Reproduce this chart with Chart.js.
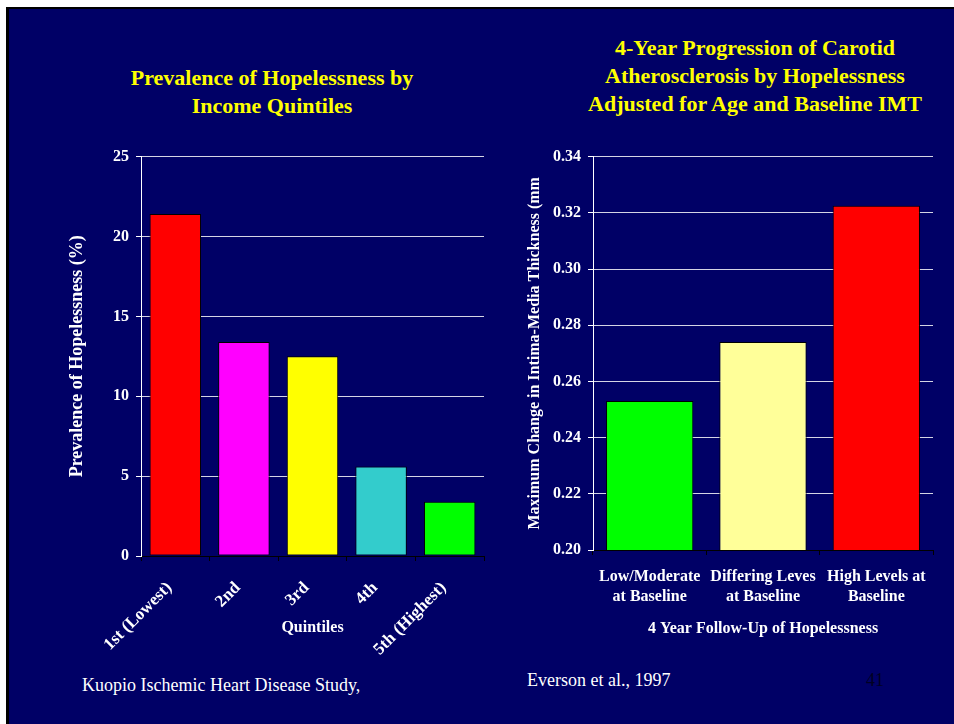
<!DOCTYPE html>
<html>
<head>
<meta charset="utf-8">
<script src="https://cdn.jsdelivr.net/npm/chart.js@4.4.1/dist/chart.umd.min.js"></script>
<style>
  html, body { margin: 0; padding: 0; background: #fff; }
  body { width: 954px; height: 724px; position: relative; overflow: hidden;
         font-family: "Liberation Serif", "Times New Roman", serif; }
  #slide { position: absolute; left: 6px; top: 7px; right: 0; bottom: 0;
           background: #000066; border-left: 3px solid #000; border-top: 2px solid #000; }
  .abs { position: absolute; }
  .title { color: #ffff00; font-weight: bold; font-size: 22px; line-height: 28px;
           text-align: center; width: 420px; white-space: nowrap; }
  .foot { color: #fff; font-size: 18px; white-space: nowrap; line-height: 20px; }
  canvas { position: absolute; }
</style>
</head>
<body>
<div id="slide"></div>

<div class="abs title" style="left:62px; top:64px;">Prevalence of Hopelessness by<br>Income Quintiles</div>
<div class="abs title" style="left:545px; top:34px;">4-Year Progression of Carotid<br>Atherosclerosis by Hopelessness<br>Adjusted for Age and Baseline IMT</div>

<canvas id="chart-left" width="445" height="520" style="left:55px; top:140px;"></canvas>
<canvas id="chart-right" width="449" height="510" style="left:505px; top:140px;"></canvas>

<div class="abs foot" style="left:82px; top:675px;">Kuopio Ischemic Heart Disease Study,</div>
<div class="abs foot" style="left:527px; top:670px;">Everson et al., 1997</div>
<div class="abs foot" style="left:866px; top:670px; color:#000022;">41</div>

<script>
/* ===== DATA ===== */
const QUINTILE_LABELS = ['1st (Lowest)', '2nd', '3rd', '4th', '5th (Highest)'];
const PREVALENCE      = [21.4, 13.4, 12.5, 5.6, 3.4];
const QUINTILE_COLORS = ['#ff0000', '#ff00ff', '#ffff00', '#33cccc', '#00ff00'];
const PREV_TICKS      = { min: 0, max: 25, step: 5 };

const FOLLOWUP_LABELS = [
  ['Low/Moderate', 'at Baseline'],
  ['Differing Leves', 'at Baseline'],
  ['High Levels at', 'Baseline'],
];
const IMT_CHANGE      = [0.253, 0.274, 0.3225];
const FOLLOWUP_COLORS = ['#00ff00', '#ffff99', '#ff0000'];
const IMT_TICKS       = { min: 0.20, max: 0.34, step: 0.02 };

/* ===== SHARED STYLE ===== */
const SERIF = '"Liberation Serif", "Times New Roman", serif';
const boldFont = (size, lineHeight = 1.2) => ({ family: SERIF, size, weight: 'bold', lineHeight });
const GRID_COLOR = '#d4d4e4';

function makeBarChart(canvasId, cfg) {
  const ctx = document.getElementById(canvasId).getContext('2d');
  return new Chart(ctx, {
    type: 'bar',
    data: {
      labels: cfg.labels,
      datasets: [{
        data: cfg.values,
        backgroundColor: cfg.colors,
        borderColor: '#000',
        borderWidth: 1,
        borderSkipped: false,
        barPercentage: cfg.barPct,
        categoryPercentage: 1,
      }],
    },
    options: {
      responsive: false,
      animation: false,
      devicePixelRatio: 1,
      layout: { padding: cfg.padding },
      plugins: { legend: { display: false }, tooltip: { enabled: false } },
      scales: {
        x: {
          grid: { display: true, drawOnChartArea: false, drawTicks: true, tickLength: 5,
                  tickColor: '#000', offset: true },
          border: { display: true, color: '#000', width: 1 },
          ticks: {
            color: '#fff', font: boldFont(cfg.xTickSize, cfg.xLineHeight || 1.2),
            minRotation: cfg.rotation, maxRotation: cfg.rotation,
            padding: cfg.xTickPad, labelOffset: cfg.xLabelOffset || 0, autoSkip: false,
          },
          title: { display: true, text: cfg.xTitle, color: '#fff', font: boldFont(16),
                   padding: { top: 0, bottom: cfg.xTitlePad } },
          afterFit(scale) { scale.height = cfg.xHeight; },
        },
        y: {
          min: cfg.yTicks.min, max: cfg.yTicks.max,
          grid: { color: GRID_COLOR, lineWidth: 1, tickLength: 5, tickColor: '#fff' },
          border: { display: true, color: '#fff', width: 1 },
          ticks: {
            stepSize: cfg.yTicks.step, color: '#fff', font: boldFont(16), padding: 7,
            callback: cfg.yFormat,
          },
          title: { display: true, text: cfg.yTitle, color: '#fff', font: boldFont(cfg.yTitleSize),
                   padding: { top: cfg.yTitlePad, bottom: 0 } },
          afterFit(scale) { scale.width = cfg.yWidth; },
        },
      },
    },
  });
}

/* ===== CHARTS ===== */
makeBarChart('chart-left', {
  labels: QUINTILE_LABELS,
  values: PREVALENCE,
  colors: QUINTILE_COLORS,
  barPct: 0.75,
  padding: { top: 16, right: 16, left: 0, bottom: 0 },
  rotation: 45,
  xTickSize: 17,
  xTickPad: 17,
  xLabelOffset: -6,
  xTitle: 'Quintiles',
  xTitlePad: 23,
  xHeight: 104,
  yTicks: PREV_TICKS,
  yFormat: (v) => v,
  yTitle: 'Prevalence of Hopelessness (%)',
  yTitleSize: 18,
  yTitlePad: 12,
  yWidth: 86,
});

makeBarChart('chart-right', {
  labels: FOLLOWUP_LABELS,
  values: IMT_CHANGE,
  colors: FOLLOWUP_COLORS,
  barPct: 0.77,
  padding: { top: 15, right: 21, left: 0, bottom: 0 },
  rotation: 0,
  xTickSize: 16,
  xLineHeight: 1.3,
  xTickPad: 11,
  xTitle: '4 Year Follow-Up of Hopelessness',
  xTitlePad: 12,
  xHeight: 100,
  yTicks: IMT_TICKS,
  yFormat: (v) => Number(v).toFixed(2),
  yTitle: 'Maximum Change in Intima-Media Thickness (mm',
  yTitleSize: 16,
  yTitlePad: 20,
  yWidth: 88,
});
</script>
</body>
</html>
